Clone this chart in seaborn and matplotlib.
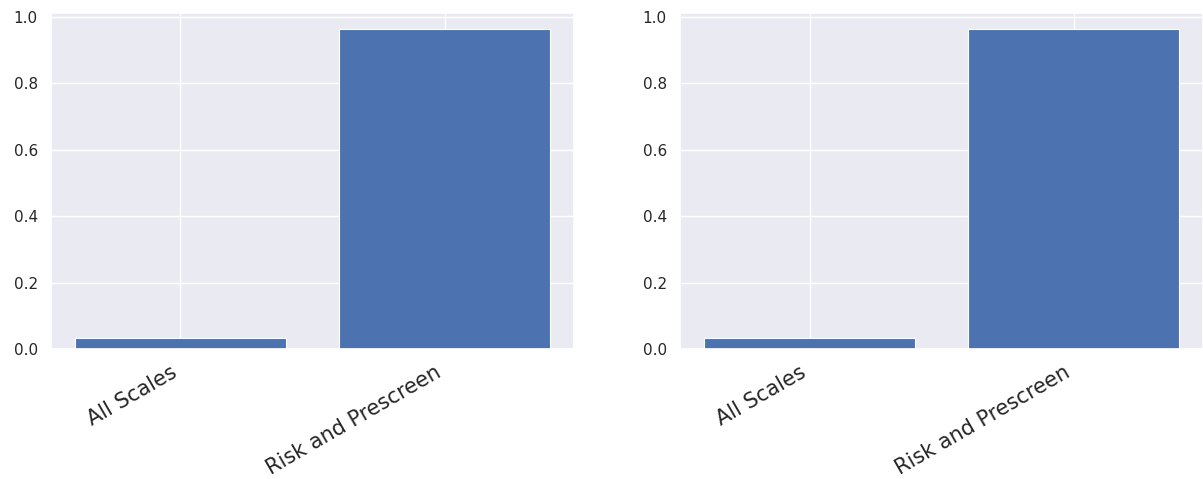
import matplotlib
matplotlib.use("Agg")
import matplotlib.pyplot as plt
import seaborn as sns
import pandas as pd

categories = ["All Scales", "Risk and Prescreen"]
left_values = [0.033, 0.964]
right_values = [0.033, 0.964]


def draw_panel(ax, values):
    df = pd.DataFrame({"group": categories, "value": values})
    sns.barplot(data=df, x="group", y="value", ax=ax, color="#4C72B0",
                saturation=1, width=0.8, edgecolor="white", linewidth=0.8)
    ax.xaxis.grid(True)
    ax.set_xlim(-0.49, 1.49)
    ax.set_ylim(0, 1.012)
    ax.set_xlabel("")
    ax.set_ylabel("")
    ax.set_xticks(range(len(categories)))
    ax.set_xticklabels(categories, rotation=30, ha="right", fontsize=15)
    ax.tick_params(axis="y", labelsize=11)


def main():
    sns.set_theme(style="darkgrid")
    fig = plt.figure(figsize=(12.03, 4.79), dpi=100)
    ax1 = fig.add_axes([0.0424, 0.271, 0.4348, 0.702])
    ax2 = fig.add_axes([0.5653, 0.271, 0.4348, 0.702])
    draw_panel(ax1, left_values)
    draw_panel(ax2, right_values)
    fig.savefig("out.png", dpi=100)


if __name__ == "__main__":
    main()
